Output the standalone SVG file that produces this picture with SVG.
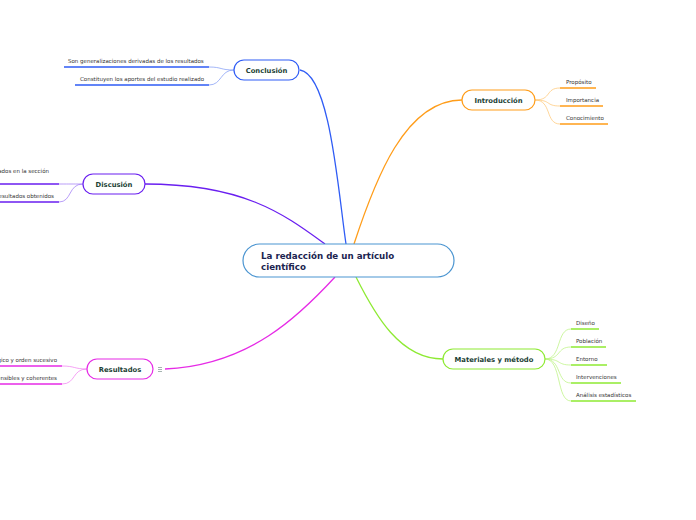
<svg xmlns="http://www.w3.org/2000/svg" width="696" height="520" viewBox="0 0 696 520">
<style>
.node{fill:#fff;stroke-width:1.2}
.lbl{font-family:"DejaVu Sans",Verdana,sans-serif;font-weight:bold;font-size:6.8px;fill:#1c3f35;text-anchor:middle}
.sub{font-family:"DejaVu Sans",Verdana,sans-serif;font-size:5.5px;fill:#333}
.conn{fill:none;stroke-width:1.3}
.br{fill:none;stroke-width:0.7}
.ul{fill:none;stroke-width:1.4}
</style>
<rect width="696" height="520" fill="#fff"/>
<g id="connectors">
<path class="conn" stroke="#2f5cf5" d="M300,70 C330,75 338,190 346,244"/>
<path class="conn" stroke="#6a1ff0" d="M145,184 C245,184 285,215 325,244"/>
<path class="conn" stroke="#e62be6" d="M165,369 C250,365 300,315 335,277"/>
<path class="conn" stroke="#ff9d1a" d="M462,100 C405,100 375,180 354,244"/>
<path class="conn" stroke="#8eea33" d="M443,359 C400,359 375,315 356,277"/>
<path class="br" stroke="#7b96f5" d="M234,70 C220,70 222,67 209,67"/>
<path class="br" stroke="#7b96f5" d="M234,70 C220,70 222,85 209,85"/>
<path class="ul" stroke="#2f5cf5" d="M64,67 H209 M75,85 H209"/>
<path class="br" stroke="#9b74f5" d="M83,184 C70,184 72,184 59,184"/>
<path class="br" stroke="#9b74f5" d="M83,184 C68,184 72,202 59,202"/>
<path class="ul" stroke="#6a1ff0" d="M0,184 H59 M0,202 H59"/>
<path class="br" stroke="#f07af0" d="M87,369 C74,369 75,366 62,366"/>
<path class="br" stroke="#f07af0" d="M87,369 C72,369 76,384 62,384"/>
<path class="ul" stroke="#e62be6" d="M0,366 H62 M0,384 H62"/>
<path class="br" stroke="#ffc46e" d="M535,100 C552,100 545,88 560,88"/>
<path class="br" stroke="#ffc46e" d="M535,100 C552,100 545,106 560,106"/>
<path class="br" stroke="#ffc46e" d="M535,100 C552,100 545,124 560,124"/>
<path class="ul" stroke="#ff9d1a" d="M560,88 H596 M560,106 H603 M560,124 H608"/>
<path class="br" stroke="#b8f27a" d="M545,359 C562,359 556,329 571,329"/>
<path class="br" stroke="#b8f27a" d="M545,359 C562,359 556,347 571,347"/>
<path class="br" stroke="#b8f27a" d="M545,359 C562,359 556,365 571,365"/>
<path class="br" stroke="#b8f27a" d="M545,359 C562,359 556,383 571,383"/>
<path class="br" stroke="#b8f27a" d="M545,359 C562,359 556,401 571,401"/>
<path class="ul" stroke="#8eea33" d="M571,329 H599 M571,347 H606 M571,365 H607 M571,383 H621 M571,401 H636"/>
</g>
<g id="center">
<rect class="node" x="243" y="244" width="211" height="33" rx="16.5" stroke="#4b95d1"/>
<text font-family="DejaVu Sans,Verdana,sans-serif" font-weight="bold" font-size="8.7px" fill="#1b2450"><tspan x="261" y="259">La redacción de un artículo</tspan><tspan x="261" y="270">científico</tspan></text>
</g>
<g id="conclusion">
<rect class="node" x="234" y="60" width="65" height="20" rx="10" stroke="#2f5cf5"/>
<text class="lbl" x="266.5" y="73">Conclusión</text>
<text class="sub" x="68" y="63">Son generalizaciones derivadas de los resultados</text>
<text class="sub" x="80" y="81">Constituyen los aportes del estudio realizado</text>
</g>
<g id="discusion">
<rect class="node" x="83" y="174" width="62" height="20" rx="10" stroke="#6a1ff0"/>
<text class="lbl" x="114" y="187">Discusión</text>
<text class="sub" x="49" y="173" text-anchor="end">ados en la sección</text>
<text class="sub" x="54" y="198" text-anchor="end">esultados obtenidos</text>
</g>
<g id="resultados">
<rect class="node" x="87" y="359" width="66" height="20" rx="10" stroke="#e62be6"/>
<text class="lbl" x="120" y="372">Resultados</text>
<path d="M158,367.5 h4 M158,369.5 h4 M158,371.5 h4" stroke="#4a6a60" stroke-width="0.5"/>
<text class="sub" x="57" y="362" text-anchor="end">gico y orden sucesivo</text>
<text class="sub" x="57" y="380" text-anchor="end">ensibles y coherentes</text>
</g>
<g id="introduccion">
<rect class="node" x="462" y="90" width="73" height="20" rx="10" stroke="#ff9d1a"/>
<text class="lbl" x="498.5" y="103">Introducción</text>
<text class="sub" x="566" y="84">Propósito</text>
<text class="sub" x="566" y="102">Importancia</text>
<text class="sub" x="566" y="120">Conocimiento</text>
</g>
<g id="materiales">
<rect class="node" x="443" y="349" width="102" height="20" rx="10" stroke="#8eea33"/>
<text class="lbl" x="494" y="362">Materiales y método</text>
<text class="sub" x="576" y="325">Diseño</text>
<text class="sub" x="576" y="343">Población</text>
<text class="sub" x="576" y="361">Entorno</text>
<text class="sub" x="576" y="379">Intervenciones</text>
<text class="sub" x="576" y="397">Análisis estadísticos</text>
</g>
</svg>
